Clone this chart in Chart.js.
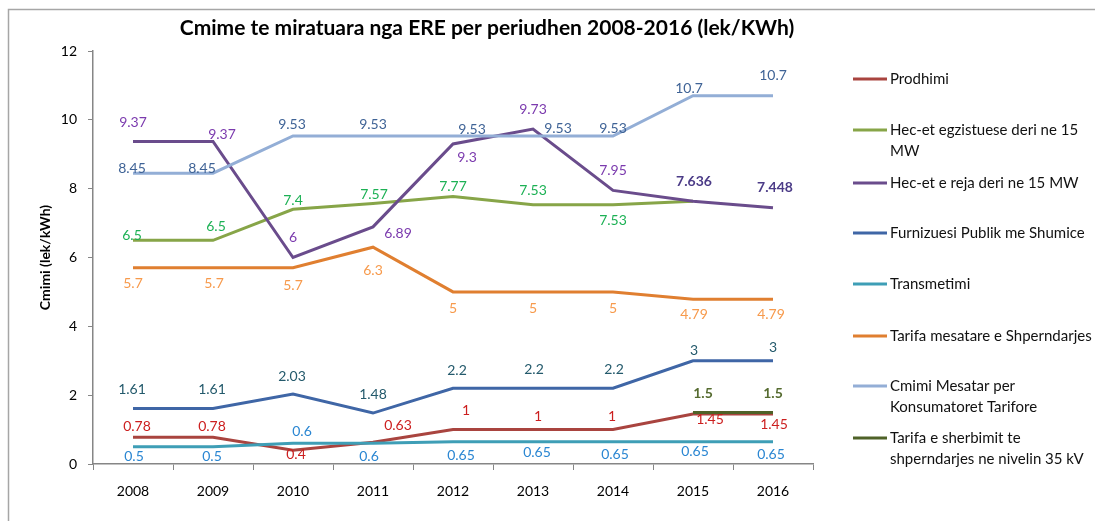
<!DOCTYPE html>
<html>
<head>
<meta charset="utf-8">
<title>Cmime te miratuara nga ERE</title>
<script src="https://cdn.jsdelivr.net/npm/chart.js@4.4.1/dist/chart.umd.min.js"></script>
<style>
  html, body { margin: 0; padding: 0; background: #fff; }
  #priceChart { display: block; }
</style>
</head>
<body>
<canvas id="priceChart" width="1095" height="521"></canvas>
<script>
// Years and price series (lek/kWh)
const years = ['2008', '2009', '2010', '2011', '2012', '2013', '2014', '2015', '2016'];

const prodhimi        = [0.78, 0.78, 0.4, 0.63, 1, 1, 1, 1.45, 1.45];
const hecEgzistuese   = [6.5, 6.5, 7.4, 7.57, 7.77, 7.53, 7.53, 7.636, null];
const hecReja         = [9.37, 9.37, 6, 6.89, 9.3, 9.73, 7.95, 7.636, 7.448];
const furnizuesi      = [1.61, 1.61, 2.03, 1.48, 2.2, 2.2, 2.2, 3, 3];
const transmetimi     = [0.5, 0.5, 0.6, 0.6, 0.65, 0.65, 0.65, 0.65, 0.65];
const tarifaMesatare  = [5.7, 5.7, 5.7, 6.3, 5, 5, 5, 4.79, 4.79];
const cmimiMesatar    = [8.45, 8.45, 9.53, 9.53, 9.53, 9.53, 9.53, 10.7, 10.7];
const tarifaSherbimit = [null, null, null, null, null, null, null, 1.5, 1.5];

const yTicks = [0, 2, 4, 6, 8, 10, 12];

const FONT = 'Lato, "Open Sans", sans-serif';

// line colour, label colour and label offsets (px from the point) for every series
const series = [
    { name: ['Prodhimi'], data: prodhimi, line: '#A9443F', text: '#CC1F1F',
      offsets: [[4, -11], [-1, -11], [3, 4], [25, -17], [13, -19], [5, -13], [-1, -13], [17, 5], [1, 10]] },
    { name: ['Hec-et egzistuese deri ne 15', 'MW'], data: hecEgzistuese, line: '#87A548', text: '#1DB155',
      offsets: [[-1, -5], [3, -14], [0, -9], [1, -9], [0, -10], [0, -14], [0, 16], null, null] },
    { name: ['Hec-et e reja deri ne 15 MW'], data: hecReja, line: '#6A4C8C', text: '#7B3AAE',
      bold: [false, false, false, false, false, false, false, true, true], boldText: '#4B3B87',
      offsets: [[0, -19], [9, -7], [0, -20], [25, 7], [14, 14], [0, -20], [0, -20], [1, -20], [2, -20]] },
    { name: ['Furnizuesi Publik me Shumice'], data: furnizuesi, line: '#3F66A6', text: '#245A6C',
      offsets: [[-1, -19], [-1, -19], [-1, -18], [0, -19], [4, -18], [1, -19], [1, -19], [1, -10], [0, -13]] },
    { name: ['Transmetimi'], data: transmetimi, line: '#3E9EB6', text: '#2A86D2',
      offsets: [[1, 10], [-1, 10], [9, -12], [-4, 13], [8, 14], [4, 11], [2, 13], [2, 10], [-2, 13]] },
    { name: ['Tarifa mesatare e Shperndarjes'], data: tarifaMesatare, line: '#E07F30', text: '#F79A4C',
      offsets: [[0, 16], [1, 16], [0, 18], [0, 23], [0, 17], [0, 17], [0, 17], [1, 15], [-2, 15]] },
    { name: ['Cmimi Mesatar per', 'Konsumatoret Tarifore'], data: cmimiMesatar, line: '#93AED6', text: '#3F6396',
      offsets: [[-1, -5], [-11, -5], [-1, -12], [0, -12], [19, -7], [25, -8], [0, -8], [-4, -7], [0, -20]] },
    { name: ['Tarifa e sherbimit te', 'shperndarjes ne nivelin 35 kV'], data: tarifaSherbimit, line: '#4F6228', text: '#556B2F',
      bold: [false, false, false, false, false, false, false, true, true], boldText: '#556B2F',
      offsets: [null, null, null, null, null, null, null, [10, -19], [0, -19]] }
];

// legend rows on the right side
const legendY = [79, 130, 183, 233, 284, 336, 386, 438];

const frameAndTitle = {
    id: 'frameAndTitle',
    beforeDraw(chart) {
        const ctx = chart.ctx;
        ctx.save();
        ctx.fillStyle = '#fff';
        ctx.fillRect(0, 0, chart.width, chart.height);
        ctx.strokeStyle = '#A6A6A6';
        ctx.lineWidth = 1.5;
        ctx.strokeRect(8.5, 9.5, chart.width + 20, chart.height + 20);
        ctx.restore();
    },
    afterDraw(chart) {
        const ctx = chart.ctx;
        ctx.save();
        ctx.fillStyle = '#000';
        ctx.font = 'bold 21px ' + FONT;
        ctx.textAlign = 'center';
        ctx.textBaseline = 'middle';
        ctx.fillText('Cmime te miratuara nga ERE per periudhen 2008-2016 (lek/KWh)', 487, 28);

        // legend
        ctx.font = '15px ' + FONT;
        ctx.textAlign = 'left';
        series.forEach((s, i) => {
            const y = legendY[i];
            ctx.strokeStyle = s.line;
            ctx.lineWidth = 3;
            ctx.beginPath();
            ctx.moveTo(853, y);
            ctx.lineTo(887, y);
            ctx.stroke();
            ctx.fillStyle = '#111';
            s.name.forEach((ln, k) => ctx.fillText(ln, 890, y + k * 21));
        });
        ctx.restore();
    }
};

const pointLabels = {
    id: 'pointLabels',
    afterDatasetsDraw(chart) {
        const ctx = chart.ctx;
        ctx.save();
        ctx.textAlign = 'center';
        ctx.textBaseline = 'middle';
        series.forEach((s, i) => {
            const meta = chart.getDatasetMeta(i);
            meta.data.forEach((pt, j) => {
                const v = s.data[j];
                const off = s.offsets[j];
                if (v == null || !off) return;
                const bold = s.bold && s.bold[j];
                ctx.font = (bold ? 'bold ' : '') + '14px ' + FONT;
                ctx.fillStyle = bold ? s.boldText : s.text;
                ctx.fillText(String(v), pt.x + off[0], pt.y + off[1]);
            });
        });
        ctx.restore();
    }
};

Chart.defaults.font.family = FONT;

new Chart(document.getElementById('priceChart').getContext('2d'), {
    type: 'line',
    data: {
        labels: years,
        datasets: series.map((s, i) => ({
            label: s.name.join(' '),
            data: s.data,
            borderColor: s.line,
            backgroundColor: s.line,
            borderWidth: 3,
            pointRadius: 0,
            tension: 0,
            order: series.length - i
        }))
    },
    options: {
        responsive: false,
        animation: false,
        devicePixelRatio: 1,
        layout: { padding: { top: 51, right: 282, bottom: 0, left: 0 } },
        plugins: {
            legend: { display: false },
            title: { display: false },
            tooltip: { enabled: false }
        },
        scales: {
            x: {
                offset: true,
                grid: { offset: true, drawOnChartArea: false, tickLength: 6, color: '#868686' },
                border: { color: '#868686', width: 1.5 },
                ticks: { color: '#000', font: { size: 14 }, padding: 13 },
                afterFit: scale => { scale.height = 57; }
            },
            y: {
                min: yTicks[0],
                max: yTicks[yTicks.length - 1],
                grid: { drawOnChartArea: false, tickLength: 5, color: '#868686' },
                border: { color: '#868686', width: 1.5 },
                ticks: { stepSize: yTicks[1] - yTicks[0], color: '#000', font: { size: 14 }, padding: 11 },
                title: {
                    display: true,
                    text: 'Cmimi (lek/kWh)',
                    color: '#000',
                    font: { size: 14, weight: 'bold' },
                    padding: { top: 37, bottom: 0 }
                },
                afterFit: scale => { scale.width = 93; }
            }
        }
    },
    plugins: [frameAndTitle, pointLabels]
});
</script>
</body>
</html>
